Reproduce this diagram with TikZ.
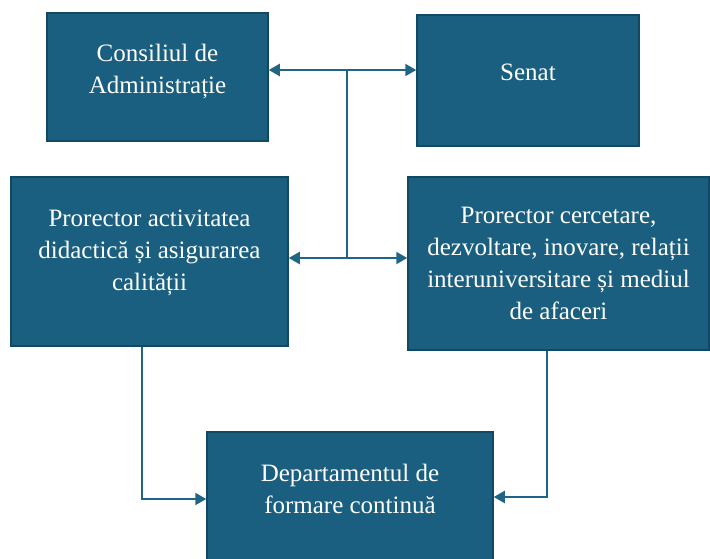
\documentclass[tikz,border=0pt]{standalone}
\usepackage{fontspec}
\setmainfont{Liberation Serif}
\usetikzlibrary{arrows.meta}
\definecolor{boxblue}{RGB}{26,95,128}
\definecolor{boxedge}{RGB}{17,72,100}
\definecolor{linkblue}{RGB}{30,101,134}
\tikzset{
    unitbox/.style={draw=boxedge, line width=1.5pt, fill=boxblue, inner sep=0pt},
    boxtext/.style={text=white, align=center, yshift=6pt,
        font=\fontsize{25}{32}\selectfont},
    link/.style={draw=linkblue, line width=2.2pt,
        arrows={-Triangle[length=11pt,width=12pt]}}
}
\begin{document}
\begin{tikzpicture}[x=1pt,y=-1pt]
    \useasboundingbox (0,0) rectangle (710,558);
    % boxes
    \node[unitbox, minimum width=221pt, minimum height=128pt,
        label={[boxtext]center:{Consiliul de\\Administrație}}] (ca) at (157.5,77) {};
    \node[unitbox, minimum width=222pt, minimum height=131pt,
        label={[boxtext, yshift=2pt]center:{Senat}}] (senat) at (528,80.5) {};
    \node[unitbox, minimum width=277pt, minimum height=169pt,
        label={[boxtext, yshift=3pt]center:{Prorector activitatea\\didactică și asigurarea\\calității}}] (prdid) at (149.5,261.5) {};
    \node[unitbox, minimum width=301pt, minimum height=173pt,
        label={[boxtext, yshift=-6pt]center:{Prorector cercetare,\\dezvoltare, inovare, relații\\interuniversitare și mediul\\de afaceri}}] (prcer) at (558.5,263.5) {};
    \node[unitbox, minimum width=286pt, minimum height=140pt,
        label={[boxtext, yshift=7pt]center:{Departamentul de\\formare continuă}}] (dep) at (350,502) {};
    % connectors
    \coordinate (top) at (347,70);
    \coordinate (mid) at (347,258);
    \coordinate (left) at (142,499);
    \coordinate (right) at (547,497);
    \draw[link] (top) -- (ca.east |- top);
    \draw[link] (top) -- (senat.west |- top);
    \draw[link, arrows=-] (top) -- (mid);
    \draw[link] (mid) -- (prdid.east |- mid);
    \draw[link] (mid) -- (prcer.west |- mid);
    \draw[link] (prdid.south -| left) |- (dep.west |- left);
    \draw[link] (prcer.south -| right) |- (dep.east |- right);
\end{tikzpicture}
\end{document}
